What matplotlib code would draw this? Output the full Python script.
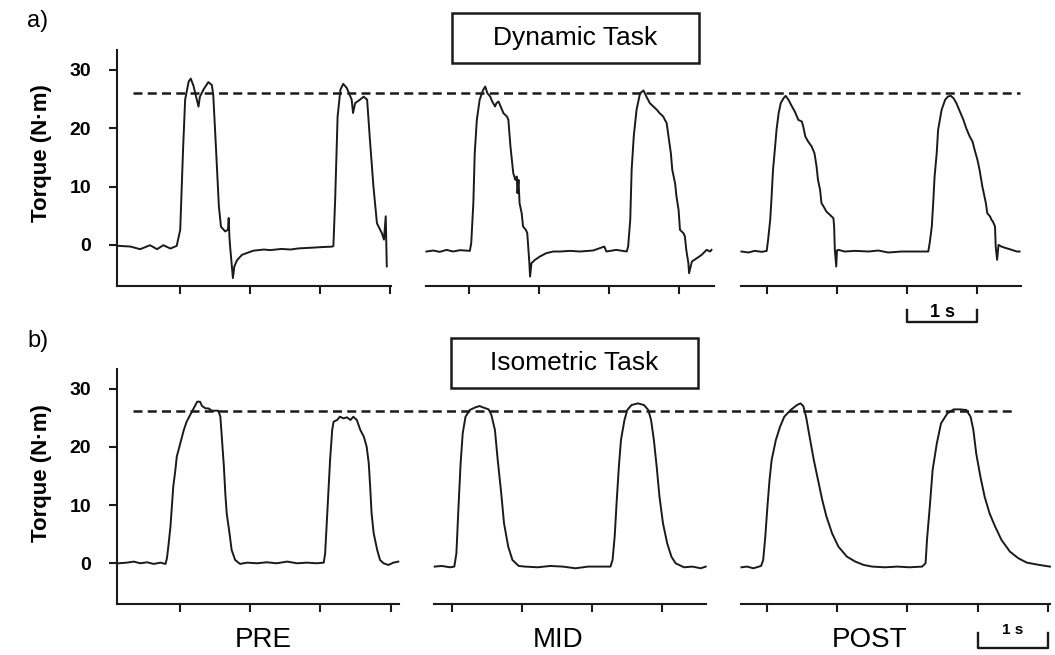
import matplotlib
matplotlib.use("Agg")
import matplotlib.pyplot as plt
from matplotlib.patches import Rectangle
from matplotlib.transforms import blended_transform_factory

plt.rcParams['font.family'] = ['Liberation Sans', 'DejaVu Sans']

# torque traces: (time in s, torque in N·m)
dyn_pre = [(0.13, -0.17), (0.30, -0.29), (0.44, -0.74), (0.58, -0.06), (0.68, -0.74), (0.77, -0.06),
           (0.87, -0.63), (0.96, -0.17), (1.01, 2.6), (1.05, 16.3), (1.08, 24.9), (1.13, 28.0),
           (1.16, 28.5), (1.20, 27.2), (1.27, 23.7), (1.29, 25.4), (1.34, 26.6), (1.41, 27.9),
           (1.46, 27.4), (1.48, 25.7), (1.52, 16.3), (1.56, 6.6), (1.59, 3.1), (1.65, 2.3),
           (1.69, 2.6), (1.70, 4.6), (1.71, 1.4), (1.72, -0.3), (1.745, -3.7), (1.76, -5.7),
           (1.78, -3.7), (1.82, -2.6), (1.89, -1.7), (2.05, -1.0), (2.20, -0.8), (2.29, -0.9),
           (2.45, -0.7), (2.58, -0.8), (2.70, -0.6), (2.86, -0.5), (3.00, -0.4), (3.17, -0.3),
           (3.19, -0.2), (3.215, 7.7), (3.25, 22.0), (3.29, 26.6), (3.33, 27.6), (3.38, 26.9),
           (3.45, 24.9), (3.47, 22.6), (3.50, 24.3), (3.57, 24.9), (3.62, 25.4), (3.67, 24.9),
           (3.71, 18.0), (3.76, 10.0), (3.81, 3.7), (3.88, 2.0), (3.91, 0.9), (3.935, 4.9),
           (3.95, -3.7)]

dyn_mid = [(0.39, -1.14), (0.49, -0.97), (0.58, -1.20), (0.68, -0.86), (0.77, -1.14), (0.87, -0.91),
           (1.01, -1.03), (1.03, 0.29), (1.06, 7.14), (1.08, 15.71), (1.11, 21.43), (1.15, 24.86),
           (1.20, 26.57), (1.23, 27.14), (1.26, 26.0), (1.30, 25.43), (1.33, 24.57), (1.37, 23.71),
           (1.39, 24.29), (1.42, 24.57), (1.45, 23.71), (1.49, 22.57), (1.54, 22.0), (1.56, 21.43),
           (1.59, 16.86), (1.63, 12.29), (1.66, 11.14), (1.68, 11.71), (1.69, 8.86), (1.705, 11.14),
           (1.72, 7.14), (1.75, 5.43), (1.77, 3.14), (1.81, 2.57), (1.83, 2.0), (1.86, -3.14),
           (1.87, -5.43), (1.89, -3.14), (1.94, -2.57), (2.01, -2.0), (2.10, -1.43), (2.20, -1.14),
           (2.30, -1.14), (2.44, -1.03), (2.58, -1.14), (2.77, -0.97), (2.93, -0.29), (2.96, -1.14),
           (3.10, -0.86), (3.25, -1.14), (3.27, -0.29), (3.30, 4.29), (3.32, 12.86), (3.35, 18.57),
           (3.39, 23.14), (3.44, 26.0), (3.49, 26.46), (3.53, 25.43), (3.58, 24.29), (3.63, 23.71),
           (3.68, 23.14), (3.72, 22.57), (3.77, 22.0), (3.82, 20.86), (3.84, 19.14), (3.88, 15.71),
           (3.90, 12.86), (3.94, 10.57), (3.96, 8.29), (3.99, 6.0), (4.01, 2.57), (4.06, 2.0),
           (4.08, 1.43), (4.10, -0.86), (4.13, -3.14), (4.14, -4.86), (4.18, -2.86), (4.25, -2.29),
           (4.32, -1.71), (4.39, -0.86), (4.44, -1.14), (4.46, -0.86)]

dyn_post = [(0.64, -1.14), (0.74, -1.31), (0.83, -1.03), (0.93, -1.20), (1.00, -1.03), (1.02, 0.86),
            (1.05, 4.29), (1.07, 8.29), (1.09, 12.86), (1.12, 16.86), (1.14, 19.71), (1.17, 22.57),
            (1.20, 24.29), (1.24, 25.14), (1.27, 25.54), (1.31, 24.86), (1.36, 23.71), (1.40, 22.86),
            (1.45, 21.43), (1.50, 21.14), (1.52, 20.29), (1.55, 18.57), (1.59, 17.71), (1.64, 16.86),
            (1.68, 15.71), (1.71, 13.43), (1.73, 11.14), (1.76, 9.43), (1.78, 7.14), (1.81, 6.57),
            (1.85, 5.71), (1.90, 5.14), (1.95, 4.57), (1.96, 3.14), (1.97, -0.86), (1.99, -3.71),
            (2.00, -0.97), (2.02, -0.86), (2.11, -1.14), (2.26, -1.03), (2.45, -1.14), (2.59, -0.97),
            (2.73, -1.31), (2.92, -1.14), (3.11, -1.14), (3.30, -1.14), (3.32, 0.29), (3.35, 3.14),
            (3.37, 7.14), (3.39, 11.71), (3.42, 15.71), (3.44, 19.71), (3.49, 23.14), (3.54, 24.86),
            (3.58, 25.43), (3.62, 25.54), (3.66, 25.14), (3.70, 24.29), (3.75, 22.86), (3.80, 21.43),
            (3.84, 20.0), (3.89, 18.57), (3.93, 17.71), (3.96, 16.29), (4.00, 14.57), (4.03, 12.86),
            (4.07, 10.0), (4.10, 8.29), (4.12, 7.14), (4.14, 5.43), (4.18, 4.86), (4.20, 4.29),
            (4.22, 4.0), (4.25, 3.14), (4.26, -0.29), (4.28, -2.57), (4.30, 0.0), (4.34, -0.29),
            (4.41, -0.57), (4.49, -0.86), (4.56, -1.14), (4.60, -1.14)]

iso_pre = [(0.13, 0.0), (0.25, 0.11), (0.35, 0.29), (0.44, 0.0), (0.54, 0.17), (0.63, -0.11),
           (0.73, 0.11), (0.80, -0.11), (0.82, 0.86), (0.84, 2.86), (0.87, 6.30), (0.89, 9.74),
           (0.91, 13.17), (0.94, 16.04), (0.96, 18.33), (1.01, 20.62), (1.06, 22.91), (1.10, 24.34),
           (1.15, 25.49), (1.20, 26.63), (1.25, 27.78), (1.29, 27.78), (1.32, 27.03), (1.37, 26.63),
           (1.41, 26.63), (1.46, 26.23), (1.51, 26.23), (1.55, 26.23), (1.58, 25.20), (1.60, 21.76),
           (1.63, 16.61), (1.65, 12.03), (1.67, 8.59), (1.71, 5.15), (1.74, 2.29), (1.79, 0.57),
           (1.86, -0.11), (1.96, 0.11), (2.10, 0.0), (2.24, 0.17), (2.38, 0.0), (2.53, 0.29),
           (2.67, 0.0), (2.81, 0.11), (2.95, 0.0), (3.05, 0.11), (3.07, 1.72), (3.09, 6.30),
           (3.12, 13.17), (3.14, 17.75), (3.17, 22.91), (3.19, 24.34), (3.24, 24.63), (3.28, 25.20),
           (3.33, 24.91), (3.38, 25.09), (3.43, 24.63), (3.47, 25.20), (3.52, 24.63), (3.57, 22.91),
           (3.62, 21.76), (3.66, 20.05), (3.69, 17.18), (3.71, 13.17), (3.73, 8.59), (3.76, 5.15),
           (3.81, 2.29), (3.85, 0.57), (3.90, 0.0), (3.97, -0.29), (4.04, 0.11), (4.11, 0.29)]

iso_mid = [(0.76, -0.57), (0.86, -0.46), (0.98, -0.69), (1.04, -0.57), (1.07, 1.72), (1.10, 9.74),
           (1.13, 17.18), (1.16, 22.34), (1.20, 25.20), (1.26, 26.35), (1.34, 26.80), (1.40, 27.03),
           (1.45, 26.80), (1.53, 26.46), (1.57, 25.49), (1.62, 22.91), (1.66, 17.75), (1.71, 12.03),
           (1.75, 6.87), (1.81, 2.86), (1.87, 0.57), (1.96, -0.46), (2.05, -0.57), (2.23, -0.69),
           (2.41, -0.46), (2.59, -0.57), (2.77, -0.86), (2.95, -0.57), (3.13, -0.57), (3.27, -0.57),
           (3.30, 0.57), (3.33, 4.58), (3.36, 10.88), (3.39, 16.61), (3.42, 21.19), (3.47, 24.63),
           (3.51, 26.35), (3.57, 27.20), (3.66, 27.49), (3.75, 27.20), (3.81, 26.35), (3.85, 24.63),
           (3.89, 21.19), (3.93, 16.61), (3.97, 11.45), (4.02, 6.87), (4.08, 3.44), (4.14, 1.15),
           (4.20, 0.0), (4.32, -0.69), (4.44, -0.57), (4.56, -0.86), (4.63, -0.57)]

iso_post = [(0.64, -0.69), (0.72, -0.57), (0.81, -0.86), (0.92, -0.46), (0.95, 0.57), (0.98, 4.58),
            (1.01, 9.74), (1.04, 14.32), (1.07, 17.75), (1.13, 21.19), (1.19, 23.48), (1.25, 25.20),
            (1.34, 26.35), (1.43, 27.20), (1.48, 27.49), (1.52, 27.03), (1.56, 25.20), (1.61, 21.76),
            (1.67, 17.75), (1.73, 14.32), (1.79, 10.88), (1.85, 8.02), (1.93, 5.15), (2.02, 2.86),
            (2.14, 1.15), (2.26, 0.29), (2.38, -0.29), (2.50, -0.57), (2.68, -0.69), (2.86, -0.57),
            (3.03, -0.69), (3.21, -0.57), (3.26, 0.0), (3.28, 4.01), (3.32, 9.74), (3.36, 16.04),
            (3.42, 20.62), (3.48, 24.06), (3.57, 25.77), (3.66, 26.46), (3.75, 26.46), (3.84, 26.35),
            (3.90, 25.20), (3.94, 22.91), (3.98, 18.90), (4.04, 14.89), (4.10, 11.45), (4.17, 8.59),
            (4.25, 6.30), (4.34, 4.01), (4.46, 2.00), (4.58, 0.86), (4.70, 0.11), (4.88, -0.29),
            (5.03, -0.57)]

sessions = ["PRE", "MID", "POST"]
y_ticks = [0, 10, 20, 30]
target_dyn = 26.1   # dashed reference level, dynamic task
target_iso = 26.2   # dashed reference level, isometric task
ylim = (-7, 33.4)

fig = plt.figure(figsize=(10.55, 6.55), dpi=100)
W, H = 1055.0, 655.0
INK = "#1a1a1a"


def make_ax(x0, x1, y_top, y_bot, xlim, ticks, left=False):
    ax = fig.add_axes([x0 / W, 1 - y_bot / H, (x1 - x0) / W, (y_bot - y_top) / H])
    ax.set_xlim(*xlim)
    ax.set_ylim(*ylim)
    for s in ["top", "right"]:
        ax.spines[s].set_visible(False)
    ax.spines["left"].set_visible(left)
    ax.spines["bottom"].set_linewidth(1.5)
    ax.spines["left"].set_linewidth(1.5)
    ax.spines["bottom"].set_color(INK)
    ax.spines["left"].set_color(INK)
    ax.set_xticks(ticks)
    ax.set_xticklabels([])
    ax.tick_params(axis="x", direction="out", length=5.8, width=1.5, color=INK)
    if left:
        ax.set_yticks(y_ticks)
        ax.set_yticklabels([str(v) for v in y_ticks], fontsize=14, fontweight="bold")
        ax.tick_params(axis="y", direction="out", length=5.8, width=1.5, pad=13, color=INK)
    else:
        ax.set_yticks([])
    ax.patch.set_visible(False)
    return ax


def trace(ax, pts):
    t = [p[0] for p in pts]
    v = [p[1] for p in pts]
    ax.plot(t, v, color=INK, lw=1.4, clip_on=False)


# a) dynamic task
top_y = (50, 285.7)
a_pre = make_ax(117, 391, *top_y, (0.11, 4.01), [1, 2, 3, 4], left=True)
a_mid = make_ax(425.7, 714.3, *top_y, (0.38, 4.50), [1, 2, 3, 4])
a_post = make_ax(740.7, 1021, *top_y, (0.63, 4.62), [1, 2, 3, 4])
for ax, pts in zip([a_pre, a_mid, a_post], [dyn_pre, dyn_mid, dyn_post]):
    trace(ax, pts)

# b) isometric task
bot_y = (369, 604)
b_pre = make_ax(117, 399, *bot_y, (0.11, 4.12), [1, 2, 3, 4], left=True)
b_mid = make_ax(434, 705.7, *bot_y, (0.75, 4.63), [1, 2, 3, 4])
b_post = make_ax(740.7, 1050, *bot_y, (0.63, 5.03), [1, 2, 3, 4, 5])
for ax, pts in zip([b_pre, b_mid, b_post], [iso_pre, iso_mid, iso_post]):
    trace(ax, pts)

# dashed reference lines across each row
for ax, lvl, xend in [(a_pre, target_dyn, 1020), (b_pre, target_iso, 1012)]:
    tr = blended_transform_factory(fig.transFigure, ax.transData)
    ax.plot([133 / W, xend / W], [lvl, lvl], transform=tr, clip_on=False,
            color=INK, lw=1.8, linestyle=(0, (3.6, 2.1)))

# 1 s scale bars
a_post.plot([3, 3, 4, 4], [-11.2, -13.2, -13.2, -11.2], color=INK, lw=1.7, clip_on=False)
a_post.text(3.5, -12.3, "1 s", ha="center", va="baseline", fontsize=13, fontweight="bold")
b_post.plot([4, 4, 5, 5], [-12.0, -14.5, -14.5, -12.0], color=INK, lw=1.7, clip_on=False)
b_post.text(4.5, -12.2, "1 s", ha="center", va="baseline", fontsize=11, fontweight="bold")

# task title boxes
for (bx, by, label) in [(452, 13, "Dynamic Task"), (451, 338, "Isometric Task")]:
    fig.patches.append(Rectangle((bx / W, 1 - (by + 50) / H), 247 / W, 50 / H,
                                 transform=fig.transFigure, fill=False, lw=1.8, edgecolor=INK))
    fig.text((bx + 123.5) / W, 1 - (by + 25) / H, label, ha="center", va="center", fontsize=19)

# panel letters and axis labels
fig.text(27 / W, 1 - 21 / H, "a)", ha="left", va="center", fontsize=17)
fig.text(27 / W, 1 - 341 / H, "b)", ha="left", va="center", fontsize=17)
for yc in [153.5, 473.5]:
    fig.text(42 / W, 1 - yc / H, "Torque (N·m)", rotation=90, ha="center", va="center",
             fontsize=16, fontweight="bold")

for name, xc in zip(sessions, [263, 558, 870]):
    fig.text(xc / W, 1 - 640 / H, name, ha="center", va="center", fontsize=20)

fig.savefig("out.png", dpi=100)
